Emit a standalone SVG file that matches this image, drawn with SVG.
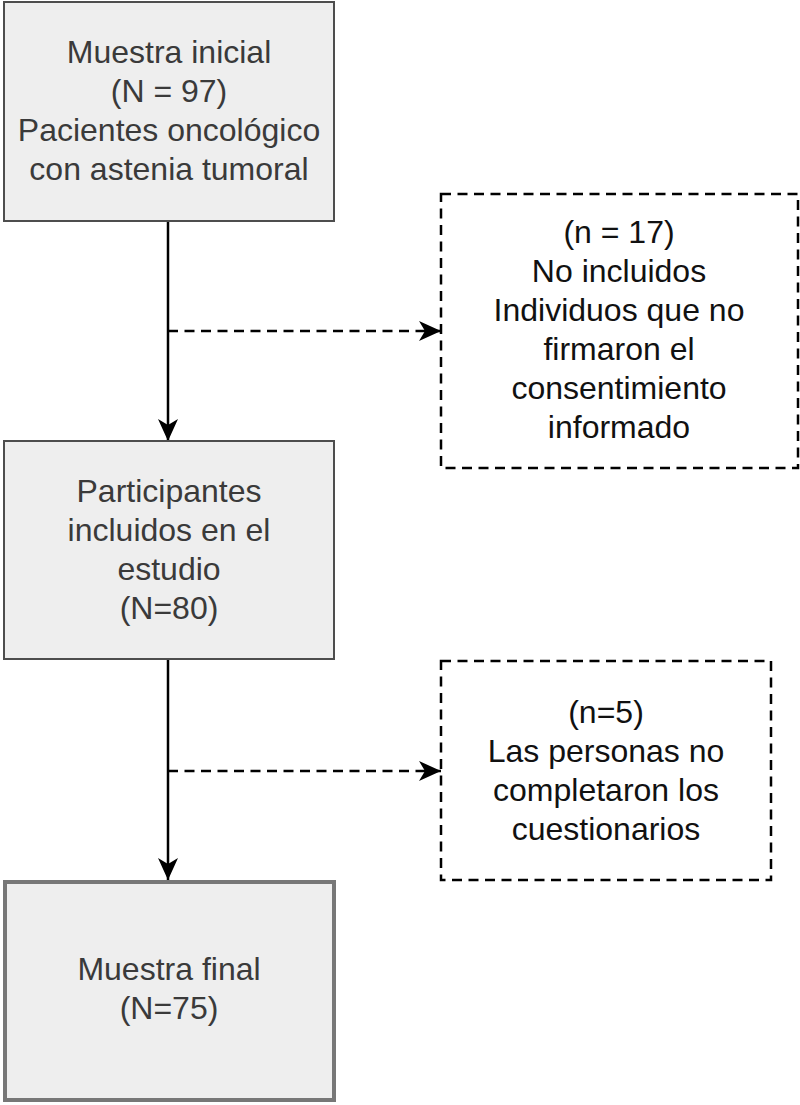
<svg xmlns="http://www.w3.org/2000/svg" width="800" height="1105" viewBox="0 0 800 1105">
<style>
.box{fill:#eeeeee;stroke:#4d4d4d;stroke-width:2}
.final{fill:#eeeeee;stroke:#777777;stroke-width:4}
.dbox{fill:#ffffff;stroke:#000000;stroke-width:2.5;stroke-dasharray:10 6.5}
.t{font-family:"Liberation Sans",Arial,sans-serif;font-size:32px;text-anchor:middle;fill:#3a3a3a}
.td{font-family:"Liberation Sans",Arial,sans-serif;font-size:32px;text-anchor:middle;fill:#111111}
.solid{fill:none;stroke:#000000;stroke-width:2.5}
.dash{fill:none;stroke:#000000;stroke-width:2.5;stroke-dasharray:10 6.5}
</style>
<defs>
<marker id="arr" markerUnits="userSpaceOnUse" markerWidth="24" markerHeight="22" refX="22" refY="11" orient="auto">
<path d="M0,1 L22,11 L0,21 L6,11 Z" fill="#000000"/>
</marker>
</defs>
<rect width="800" height="1105" fill="#ffffff"/>
<g id="connectors">
<line class="solid" x1="168" y1="221" x2="168" y2="441" marker-end="url(#arr)"/>
<line class="dash" x1="168" y1="331" x2="441" y2="331" marker-end="url(#arr)"/>
<line class="solid" x1="168" y1="659" x2="168" y2="880" marker-end="url(#arr)"/>
<line class="dash" x1="168" y1="771" x2="441" y2="771" marker-end="url(#arr)"/>
</g>
<g id="node-inicial">
<rect class="box" x="4" y="2" width="330" height="219"/>
<text class="t" x="169" y="63">Muestra inicial</text>
<text class="t" x="169" y="102">(N = 97)</text>
<text class="t" x="169" y="141">Pacientes oncológico</text>
<text class="t" x="169" y="180">con astenia tumoral</text>
</g>
<g id="node-noincluidos">
<rect class="dbox" x="441" y="194" width="357" height="274"/>
<text class="td" x="619" y="243">(n = 17)</text>
<text class="td" x="619" y="282">No incluidos</text>
<text class="td" x="619" y="321">Individuos que no</text>
<text class="td" x="619" y="360">firmaron el</text>
<text class="td" x="619" y="399">consentimiento</text>
<text class="td" x="619" y="438">informado</text>
</g>
<g id="node-participantes">
<rect class="box" x="4" y="441" width="330" height="218"/>
<text class="t" x="169" y="502">Participantes</text>
<text class="t" x="169" y="541">incluidos en el</text>
<text class="t" x="169" y="580">estudio</text>
<text class="t" x="169" y="619">(N=80)</text>
</g>
<g id="node-nocompletaron">
<rect class="dbox" x="441" y="661" width="330" height="219"/>
<text class="td" x="606" y="723">(n=5)</text>
<text class="td" x="606" y="762">Las personas no</text>
<text class="td" x="606" y="801">completaron los</text>
<text class="td" x="606" y="840">cuestionarios</text>
</g>
<g id="node-final">
<rect class="final" x="5" y="882" width="329" height="218"/>
<text class="t" x="169" y="980">Muestra final</text>
<text class="t" x="169" y="1019">(N=75)</text>
</g>
</svg>
